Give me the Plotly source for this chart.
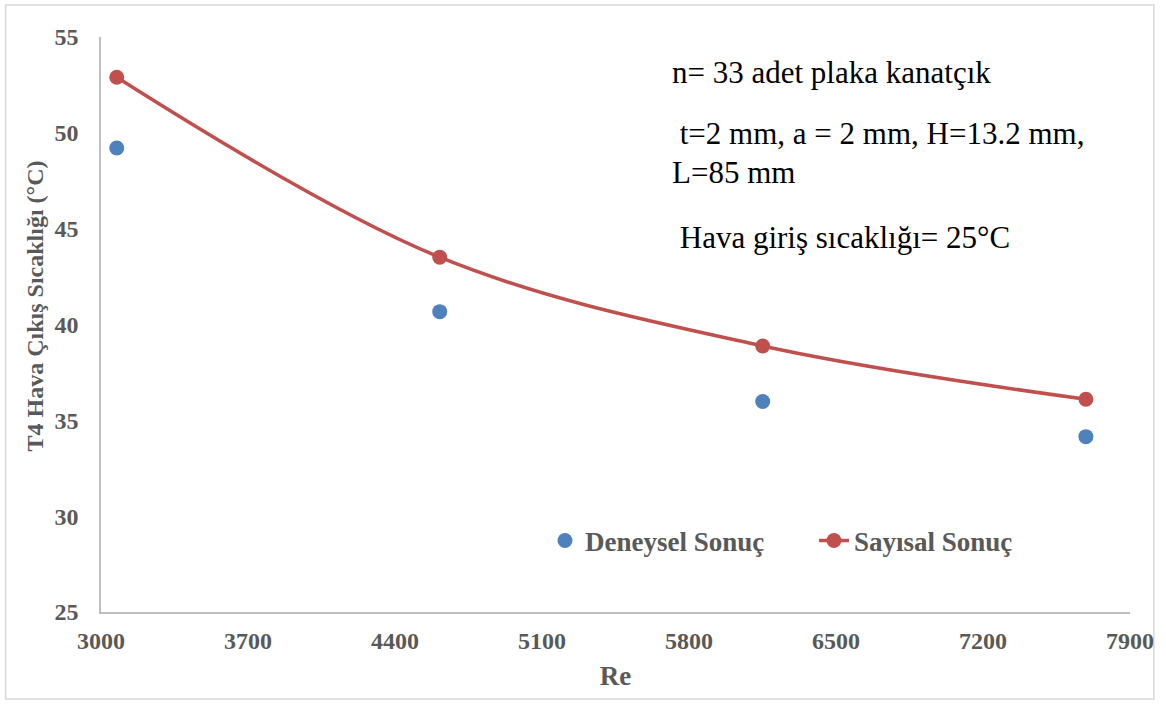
import plotly.graph_objects as go

re_vals = [3075, 4613, 6151, 7690]
deneysel = [49.21, 40.67, 35.98, 34.15]
sayisal = [52.90, 43.51, 38.88, 36.10]

x_ticks = [3000, 3700, 4400, 5100, 5800, 6500, 7200, 7900]
y_ticks = [25, 30, 35, 40, 45, 50, 55]

FONT = "Times New Roman, Liberation Serif, serif"
GREY = "#595959"

L, R, T, B = 101, 29, 37, 92
PW, PH = 1166 - L - R, 704 - T - B


def px(x):
    return (x - L) / PW


def py(y):
    return (704 - B - y) / PH


fig = go.Figure()
fig.add_trace(go.Scatter(
    x=re_vals, y=deneysel, mode="markers", name="Deneysel Sonuç",
    marker=dict(color="#4F81BD", size=15),
))
fig.add_trace(go.Scatter(
    x=re_vals, y=sayisal, mode="lines+markers", name="Sayısal Sonuç",
    line=dict(color="#C0504D", width=3.5, shape="spline", smoothing=1.0),
    marker=dict(color="#C0504D", size=15),
))

fig.update_layout(
    width=1166, height=704,
    margin=dict(l=L, r=R, t=T, b=B),
    paper_bgcolor="white", plot_bgcolor="white",
    font=dict(family=FONT, color=GREY),
    showlegend=True,
    legend=dict(
        orientation="h", x=px(548), y=py(541), xanchor="left", yanchor="middle",
        font=dict(family=FONT, size=27, color=GREY, weight="bold"),
        bgcolor="rgba(0,0,0,0)", itemwidth=30,
        entrywidth=224, entrywidthmode="pixels",
    ),
    xaxis=dict(
        range=[3000, 7900], tickvals=x_ticks, ticktext=[str(v) for v in x_ticks],
        showgrid=False, zeroline=False, showline=True, linecolor="#BFBFBF", linewidth=1.5,
        ticks="", ticklabelstandoff=6,
        tickfont=dict(family=FONT, size=24, color=GREY, weight="bold"),
        title=dict(text="Re", font=dict(family=FONT, size=27, color=GREY, weight="bold"), standoff=14),
    ),
    yaxis=dict(
        range=[25, 55], tickvals=y_ticks, ticktext=[str(v) for v in y_ticks],
        showgrid=False, zeroline=False, showline=True, linecolor="#BFBFBF", linewidth=1.5,
        ticks="", ticklabelstandoff=16,
        tickfont=dict(family=FONT, size=24, color=GREY, weight="bold"),
    ),
)

# y-axis title (placed slightly above centre as in the reference)
fig.add_annotation(
    text="T4 Hava Çıkış Sıcaklığı (°C)", xref="paper", yref="paper",
    x=px(35), y=py(306), xanchor="center", yanchor="middle", textangle=-90,
    showarrow=False, font=dict(family=FONT, size=24, color=GREY, weight="bold"),
)

ann_font = dict(family=FONT, size=31, color="black")
annots = [
    ("n= 33 adet plaka kanatçık", 73),
    (" t=2 mm, a = 2 mm, H=13.2 mm,", 133),
    ("L=85 mm", 172),
    (" Hava giriş sıcaklığı= 25°C", 238),
]
for text, ypx in annots:
    fig.add_annotation(
        text=text, xref="paper", yref="paper",
        x=px(674), y=py(ypx),
        xanchor="left", yanchor="middle", showarrow=False, font=dict(ann_font),
    )

fig.add_shape(
    type="rect", xref="paper", yref="paper",
    x0=px(5), x1=px(1161), y0=py(699), y1=py(5),
    line=dict(color="#D9D9D9", width=1.5), fillcolor="rgba(0,0,0,0)", layer="below",
)

fig.write_html("out.html")
